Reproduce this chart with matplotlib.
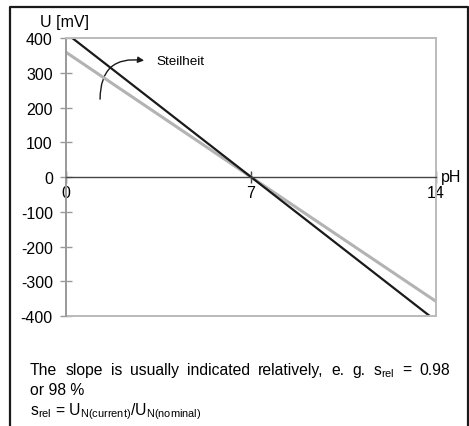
import matplotlib
matplotlib.use("Agg")
import matplotlib.pyplot as plt
from matplotlib.lines import Line2D
from matplotlib.patches import FancyArrowPatch

plt.rcParams['font.family'] = ['Liberation Sans', 'DejaVu Sans']
plt.rcParams['mathtext.fontset'] = 'custom'
plt.rcParams['mathtext.rm'] = 'Liberation Sans'
plt.rcParams['mathtext.it'] = 'Liberation Sans'

# data
ph = [0, 7, 14]
u_nominal = [414, 0, -414]   # theoretical slope (black)
u_current = [359, 0, -358]   # reduced slope (grey)
x_ticks = [0, 7, 14]
y_ticks = [-400, -300, -200, -100, 0, 100, 200, 300, 400]

W, H = 469, 427
fig = plt.figure(figsize=(W / 100, H / 100), dpi=100)
ax = fig.add_axes([66 / W, 1 - 317 / H, 370 / W, 278 / H])

ax.plot(ph, u_current, color='#b3b3b3', lw=2.2, solid_capstyle='butt')
ax.plot(ph, u_nominal, color='#1a1a1a', lw=1.6, solid_capstyle='butt')

ax.set_xlim(0, 14)
ax.set_ylim(-400, 400)

ax.spines['bottom'].set_position(('data', 0))
ax.spines['bottom'].set_color('#444444')
ax.spines['bottom'].set_linewidth(1.0)
ax.spines['left'].set_color('#999999')
ax.spines['left'].set_linewidth(1.4)
for s in ['top', 'right']:
    ax.spines[s].set_color('#bbbbbb')
    ax.spines[s].set_linewidth(1.4)
ax.axhline(-400, color='#bbbbbb', lw=1.4, clip_on=False)

ax.set_xticks(x_ticks)
ax.set_yticks(y_ticks)
ax.set_yticklabels([str(v) for v in y_ticks])
ax.tick_params(axis='y', direction='inout', length=8, width=1, color='#999999',
               labelsize=11.5, pad=5.5)
ax.tick_params(axis='x', direction='inout', length=8, width=1, color='#444444',
               labelsize=11.5, pad=2)

# axis titles
fig.text(65 / W, 1 - 22 / H, 'U [mV]', ha='center', va='center', fontsize=11.5)
fig.text(441 / W, 1 - 178 / H, 'pH', ha='left', va='center', fontsize=11.5)

# curved arrow
arrow = FancyArrowPatch((1.29, 216), (3.06, 334), connectionstyle='arc3,rad=-0.6',
                        arrowstyle='-|>', mutation_scale=9, color='#1a1a1a', lw=1.0)
ax.add_patch(arrow)
ax.text(3.42, 334, 'Steilheit', ha='left', va='center', fontsize=9.7)

# frame
fk = dict(color='#1a1a1a', lw=1.6, transform=fig.transFigure, clip_on=False)
fig.add_artist(Line2D([10 / W, 10 / W, 468 / W, 468 / W],
                      [-0.02, 1 - 7.5 / H, 1 - 7.5 / H, -0.02], **fk))

# justified first line
words = ["The", "slope", "is", "usually", "indicated", "relatively,", "e.", "g.",
         r"s$_\mathrm{rel}$", "=", "0.98"]
x_left, x_right = 30, 450
renderer = fig.canvas.get_renderer()
texts = [fig.text(0, 1 - 375 / H, w, fontsize=11.3, va='baseline') for w in words]
widths = [t.get_window_extent(renderer).width for t in texts]
gap = (x_right - x_left - sum(widths)) / (len(words) - 1)
x = x_left
for t, w in zip(texts, widths):
    t.set_x(x / W)
    x += w + gap

fig.text(30 / W, 1 - 395 / H, 'or 98 %', fontsize=11.3, va='baseline')
fig.text(30 / W, 1 - 415 / H,
         r's$_\mathrm{rel}$ = U$_\mathrm{N(current)}$/U$_\mathrm{N(nominal)}$',
         fontsize=11.3, va='baseline')

fig.savefig('out.png', dpi=100)
